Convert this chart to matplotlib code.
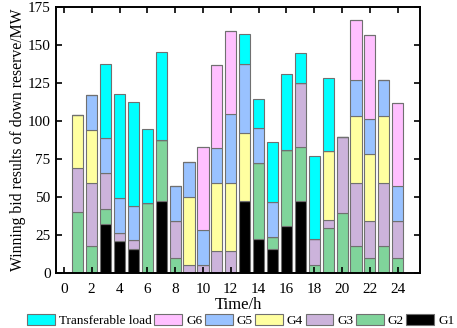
import numpy as np
import matplotlib
matplotlib.use("Agg")
import matplotlib.pyplot as plt

plt.rcParams['font.family'] = ['Liberation Serif', 'DejaVu Serif']

hours = np.arange(1, 25)

# values (MW), per hour 1..24
G1 = [0, 0, 32, 21, 16, 0, 47.6, 0, 0, 0, 0, 0,
      47.6, 22, 16, 31, 47.6, 0, 0, 0, 0, 0, 0, 0]
G2 = [40, 18, 10, 0, 0, 46, 40, 10, 0, 0, 0, 0,
      0, 50, 7.7, 50, 35.5, 5, 29.6, 39.7, 18, 10, 18, 10]
G3 = [29, 41, 24, 5, 5.5, 0, 0, 24, 5, 5, 14.3, 14.3,
      0, 0, 0, 0, 41.7, 17, 5.5, 49.6, 41, 24, 41, 24]
G4 = [35, 35, 0, 0, 0, 0, 0, 0, 45, 0, 44.7, 45,
      44.7, 0, 0, 0, 0, 0, 45, 0, 44.5, 44.5, 44.5, 0]
G5 = [0, 23, 23, 23, 22.5, 0, 0, 23, 23, 23, 23, 45,
      45, 23, 23, 0, 0, 0, 0, 0, 23.3, 23, 23.3, 23]
G6 = [0, 0, 0, 0, 0, 0, 0, 0, 0, 55, 54.6, 55,
      0, 0, 0, 0, 0, 0, 0, 0, 39.6, 55, 0, 55]
TL = [0, 0, 48.4, 68.4, 68.7, 48.5, 58, 0, 0, 0, 0, 0,
      20, 19.7, 39.7, 49.7, 20, 55, 48, 0, 0, 0, 0, 0]

series = [("G1", G1, "#000000"),
          ("G2", G2, "#80D49B"),
          ("G3", G3, "#CCB3DB"),
          ("G4", G4, "#FFFFA0"),
          ("G5", G5, "#99C2FF"),
          ("G6", G6, "#FFC0FF"),
          ("Transferable load", TL, "#00FFFF")]

fig = plt.figure(figsize=(4.57, 3.28), dpi=100)
ax = fig.add_axes([0.123, 0.168, 0.796, 0.811])

bottom = np.zeros(len(hours))
handles = {}
for name, vals, col in series:
    vals = np.array(vals, dtype=float)
    b = ax.bar(hours, vals, width=0.8, bottom=bottom, color=col,
               edgecolor="#707070", linewidth=0.8, label=name)
    handles[name] = b
    bottom += vals

ax.set_xlim(-0.55, 25.6)
ax.set_ylim(0, 175)
ax.set_xticks(np.arange(0, 25, 2))
ax.set_yticks(np.arange(0, 176, 25))
ax.tick_params(direction="in", top=True, right=True, labelsize=11,
               length=4, width=1.2)
ax.tick_params(axis="x", pad=7)
ax.tick_params(axis="y", pad=4)
for s in ax.spines.values():
    s.set_linewidth(1.4)
ax.set_xlabel("Time/h", fontsize=12, labelpad=1)
ax.set_ylabel("Winning bid results of down reserve/MW", fontsize=11.3, labelpad=1)

order = ["Transferable load", "G6", "G5", "G4", "G3", "G2", "G1"]
fig.legend([handles[n] for n in order], order, loc="lower center",
           bbox_to_anchor=(0.527, -0.025), ncol=7, frameon=False, fontsize=9.5,
           handlelength=2.1, handleheight=1.0, handletextpad=0.3,
           columnspacing=0.2, borderpad=0.2)

fig.savefig("out.png", dpi=100)
